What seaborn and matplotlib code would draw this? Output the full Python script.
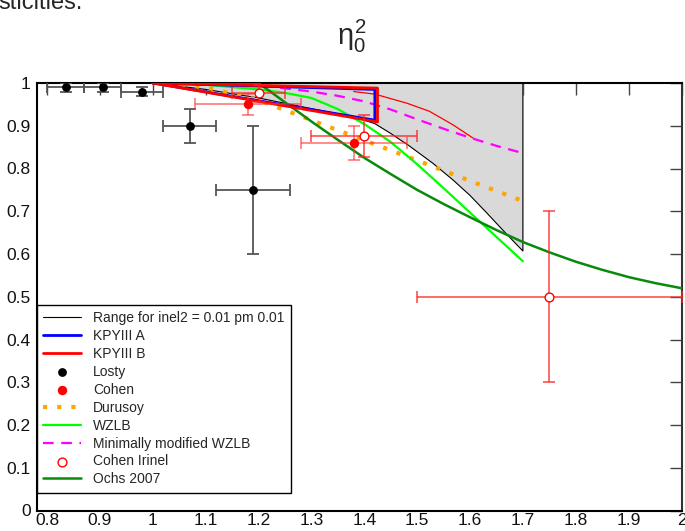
import numpy as np
import pandas as pd
import matplotlib
matplotlib.use("Agg")
import matplotlib.pyplot as plt
import seaborn as sns

# ---- data -------------------------------------------------------------
# shaded "range" band: lower boundary (upper boundary is eta^2 = 1)
range_x = [1.00, 1.10, 1.20, 1.30, 1.38, 1.42, 1.45, 1.485, 1.53, 1.568, 1.60, 1.631, 1.665, 1.70]
range_lo = [1.00, 0.985, 0.965, 0.940, 0.921, 0.905, 0.882, 0.853, 0.812, 0.773, 0.737, 0.697, 0.652, 0.607]

# KPY III solutions (closed outlines)
kpya_x = [1.00, 1.42, 1.42, 1.00]
kpya_y = [1.00, 0.913, 0.985, 1.00]
kpyb_x = [1.00, 1.425, 1.425, 1.00]
kpyb_y = [1.00, 0.909, 0.988, 1.00]
kpyb_tail_x = [1.38, 1.42, 1.48, 1.523, 1.568, 1.606]
kpyb_tail_y = [0.980, 0.974, 0.953, 0.934, 0.902, 0.871]

# Losty
losty_x = [0.835, 0.905, 0.98, 1.07, 1.19]
losty_y = [0.99, 0.99, 0.98, 0.90, 0.75]
losty_xerr = [0.035, 0.035, 0.04, 0.05, 0.07]
losty_yerr = [0.01, 0.01, 0.01, 0.04, 0.15]

# Cohen
cohen_x = [1.18, 1.38]
cohen_y = [0.95, 0.86]
cohen_xerr = [0.10, 0.10]
cohen_yerr = [0.025, 0.04]

# Cohen Irinel
irinel_x = [1.20, 1.40, 1.75]
irinel_y = [0.976, 0.876, 0.50]
irinel_xerr = [0.05, 0.10, 0.25]
irinel_yerr = [0.02, 0.048, 0.20]

# Durusoy
dur_x = [1.00, 1.10, 1.20, 1.30, 1.40, 1.50, 1.60, 1.70]
dur_y = [1.00, 0.99, 0.96, 0.913, 0.866, 0.819, 0.771, 0.724]

# WZLB
wz_x = [1.00, 1.10, 1.20, 1.25, 1.30, 1.35, 1.40, 1.45, 1.50, 1.55, 1.60, 1.65, 1.70]
wz_y = [1.00, 0.996, 0.985, 0.977, 0.965, 0.939, 0.904, 0.862, 0.810, 0.754, 0.697, 0.640, 0.583]

# minimally modified WZLB
mm_x = [1.00, 1.10, 1.20, 1.30, 1.35, 1.40, 1.45, 1.50, 1.55, 1.60, 1.65, 1.70]
mm_y = [1.00, 0.999, 0.995, 0.980, 0.970, 0.957, 0.938, 0.915, 0.893, 0.872, 0.853, 0.836]

# Ochs 2007
och_x = [1.00, 1.20, 1.25, 1.30, 1.35, 1.40, 1.45, 1.50, 1.55, 1.60, 1.65, 1.70,
         1.75, 1.80, 1.85, 1.90, 1.95, 2.00]
och_y = [1.00, 1.00, 0.955, 0.910, 0.867, 0.825, 0.787, 0.750, 0.717, 0.686, 0.656, 0.628,
         0.604, 0.582, 0.563, 0.546, 0.532, 0.520]

xticks = [0.8, 0.9, 1.0, 1.1, 1.2, 1.3, 1.4, 1.5, 1.6, 1.7, 1.8, 1.9, 2.0]
yticks = [0.0, 0.1, 0.2, 0.3, 0.4, 0.5, 0.6, 0.7, 0.8, 0.9, 1.0]

# ---- style ------------------------------------------------------------
sns.set_style("white")
plt.rcParams["font.family"] = ["Liberation Sans", "DejaVu Sans"]
plt.rcParams["mathtext.fontset"] = "custom"
plt.rcParams["mathtext.rm"] = "Liberation Sans"
plt.rcParams["mathtext.it"] = "Liberation Sans"

fig = plt.figure(figsize=(6.85, 5.31), dpi=100)
W, H = 685, 531
ax = fig.add_axes([37 / W, (H - 510.5) / H, (681.5 - 37) / W, (510.5 - 83) / H])

# shaded range band with black outline
ax.fill_between(range_x, range_lo, 1.0, color="#d9d9d9", lw=0, zorder=1)
outline_x = range_x + [range_x[-1], range_x[0]]
outline_y = range_lo + [1.0, 1.0]
sns.lineplot(x=outline_x, y=outline_y, sort=False, estimator=None, ax=ax,
             color="black", linewidth=0.8, label="Range for inel2 = 0.01 pm 0.01", zorder=2)

sns.lineplot(x=kpya_x, y=kpya_y, sort=False, estimator=None, ax=ax,
             color="blue", linewidth=2.0, label="KPYIII A", zorder=4)
sns.lineplot(x=kpyb_x, y=kpyb_y, sort=False, estimator=None, ax=ax,
             color="red", linewidth=2.0, label="KPYIII B", zorder=4)
sns.lineplot(x=kpyb_tail_x, y=kpyb_tail_y, sort=False, estimator=None, ax=ax,
             color="red", linewidth=0.9, label="_tail", zorder=3)

sns.lineplot(x=dur_x, y=dur_y, sort=False, estimator=None, ax=ax,
             color="orange", linewidth=3.0, linestyle=(0, (1, 2.4)),
             label="Durusoy", zorder=3)
sns.lineplot(x=wz_x, y=wz_y, sort=False, estimator=None, ax=ax,
             color="#00ff00", linewidth=1.6, label="WZLB", zorder=3)
sns.lineplot(x=mm_x, y=mm_y, sort=False, estimator=None, ax=ax,
             color="magenta", linewidth=1.6, linestyle=(0, (4.8, 3.4)),
             label="Minimally modified WZLB", zorder=3)
sns.lineplot(x=och_x, y=och_y, sort=False, estimator=None, ax=ax,
             color="#0a8a0a", linewidth=1.8, label="Ochs 2007", zorder=3)

# measured points with error bars
ax.errorbar(losty_x, losty_y, xerr=losty_xerr, yerr=losty_yerr, fmt="none",
            ecolor="#555555", elinewidth=1.3, capsize=4.3, capthick=1.3, zorder=5)
ax.errorbar(cohen_x, cohen_y, xerr=cohen_xerr, yerr=cohen_yerr, fmt="none",
            ecolor="#ff3030", alpha=0.6, elinewidth=1.3, capsize=4.3, capthick=1.3, zorder=5)
ax.errorbar(irinel_x, irinel_y, xerr=irinel_xerr, yerr=irinel_yerr, fmt="none",
            ecolor="#ff2020", alpha=0.85, elinewidth=1.1, capsize=4.3, capthick=1.1, zorder=5)

sns.scatterplot(x=losty_x, y=losty_y, ax=ax, color="black", s=40, linewidth=0,
                label="Losty", zorder=6)
sns.scatterplot(x=cohen_x, y=cohen_y, ax=ax, color="red", s=46, linewidth=0,
                label="Cohen", zorder=6)
sns.scatterplot(x=irinel_x, y=irinel_y, ax=ax, color="white", edgecolor="red",
                s=40, linewidth=1.0, label="Cohen Irinel", zorder=6)

# ---- axes -------------------------------------------------------------
ax.set_xlim(0.781, 2.0)
ax.set_ylim(0.0, 1.0)
ax.set_xticks(xticks)
ax.set_yticks(yticks)
ax.set_xticklabels([f"{v:g}" for v in xticks])
ax.set_yticklabels([f"{v:g}" for v in yticks])
ax.tick_params(direction="in", length=8.5, width=1.0, color="#444444",
               top=True, right=True, labelsize=12.5, labelcolor="#111111")
ax.tick_params(axis="x", pad=2.0)
ax.tick_params(axis="y", pad=4.5)
for side, sp in ax.spines.items():
    sp.set_visible(True)
    sp.set_linewidth(1.5)
    sp.set_color("black" if side != "right" else "#333333")

# legend in the requested order
handles, labels = ax.get_legend_handles_labels()
lookup = dict(zip(labels, handles))
order = ["Range for inel2 = 0.01 pm 0.01", "KPYIII A", "KPYIII B", "Losty", "Cohen",
         "Durusoy", "WZLB", "Minimally modified WZLB", "Cohen Irinel", "Ochs 2007"]
leg = ax.legend([lookup[k] for k in order], order, loc="lower left",
                bbox_to_anchor=(0.0, 0.042), fontsize=10, frameon=True, fancybox=False,
                edgecolor="black", framealpha=1.0, handlelength=2.7, handletextpad=0.9,
                labelspacing=0.28, borderpad=0.45, borderaxespad=0.0)
leg.get_frame().set_linewidth(1.0)

# title and partial caption line
fig.text(352 / W, 1 - 36 / H, r"$\eta_0^2$", ha="center", va="center", fontsize=21)
fig.text(-0.003, 1 - 9 / H, "sticities.", ha="left", va="baseline", fontsize=17)

fig.savefig("out.png", dpi=100)
